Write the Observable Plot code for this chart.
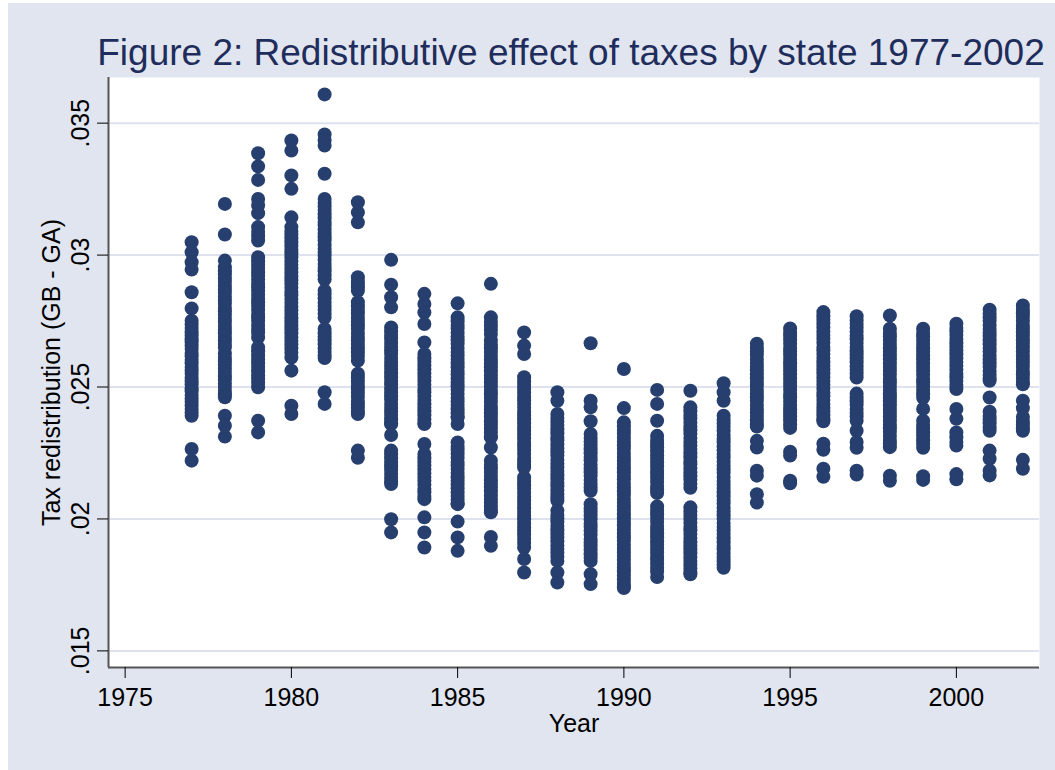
<!DOCTYPE html>
<html><head><meta charset="utf-8">
<script src="https://cdn.jsdelivr.net/npm/d3@7"></script>
<script src="https://cdn.jsdelivr.net/npm/@observablehq/plot@0.6"></script>
<style>
html,body{margin:0;padding:0;background:#fff;}
#wrap{position:relative;width:1055px;height:770px;overflow:hidden;font-family:"Liberation Sans",Arial,sans-serif;}
#panel{position:absolute;left:8px;top:3px;width:1047px;height:767px;background:#e1e5ef;}
#title{position:absolute;left:71px;width:1000px;top:33.5px;text-align:center;font-size:37px;line-height:37px;color:#1f2d5c;white-space:nowrap;}
#chart{position:absolute;left:0;top:0;}
</style></head><body>
<div id="wrap"><div id="panel"></div><div id="title"></div><div id="chart"></div></div>
<script>
const titleText = "Figure 2: Redistributive effect of taxes by state 1977-2002";
const xLabel = "Year";
const yLabel = "Tax redistribution (GB - GA)";
const xTicks = [1975, 1980, 1985, 1990, 1995, 2000];
const yTicks = [0.015, 0.02, 0.025, 0.03, 0.035];
const xDomain = [1974.5, 2002.5];
const yDomain = [0.01437, 0.03673];
const years = [1977,1978,1979,1980,1981,1982,1983,1984,1985,1986,1987,1988,1989,1990,1991,1992,1993,1994,1995,1996,1997,1998,1999,2000,2001,2002];

const r1977 = [.03049,.03011,.02973,.02945,.02859,.02798,.02751,.02737,.02724,.02708,.02695,.02681,.02670,.02655,.02644,.02629,.02617,.02603,.02590,.02576,.02563,.02550,.02535,.02522,.02510,.02495,.02484,.02470,.02456,.02444,.02430,.02417,.02403,.02391,.02265,.02221];
const r1978 = [.03194,.03078,.02979,.02954,.02939,.02927,.02911,.02899,.02884,.02870,.02857,.02842,.02828,.02816,.02800,.02787,.02774,.02759,.02746,.02731,.02717,.02704,.02690,.02676,.02663,.02650,.02627,.02611,.02598,.02585,.02570,.02557,.02541,.02528,.02513,.02500,.02485,.02473,.02461,.02391,.02353,.02312];
const r1979 = [.03386,.03336,.03285,.03213,.03188,.03159,.03106,.03088,.03072,.03055,.02992,.02977,.02963,.02951,.02935,.02922,.02907,.02892,.02878,.02865,.02850,.02835,.02821,.02808,.02793,.02777,.02764,.02751,.02735,.02720,.02707,.02688,.02650,.02636,.02620,.02604,.02590,.02576,.02560,.02544,.02530,.02516,.02499,.02372,.02328];
const r1980 = [.03434,.03396,.03302,.03251,.03143,.03106,.03091,.03078,.03064,.03049,.03034,.03020,.03007,.02992,.02976,.02963,.02949,.02934,.02919,.02905,.02892,.02876,.02861,.02848,.02834,.02819,.02804,.02790,.02777,.02761,.02746,.02733,.02719,.02704,.02688,.02675,.02661,.02646,.02630,.02612,.02562,.02429,.02398];
const r1981 = [.03609,.03457,.03434,.03415,.03308,.03213,.03198,.03184,.03171,.03155,.03140,.03126,.03113,.03097,.03082,.03068,.03055,.03039,.03024,.03010,.02997,.02981,.02966,.02952,.02939,.02923,.02908,.02865,.02851,.02836,.02820,.02807,.02793,.02778,.02763,.02720,.02704,.02691,.02677,.02662,.02646,.02633,.02619,.02610,.02480,.02436];
const r1982 = [.03200,.03162,.03124,.02916,.02902,.02890,.02878,.02865,.02821,.02806,.02792,.02779,.02763,.02748,.02734,.02721,.02705,.02690,.02676,.02663,.02647,.02632,.02618,.02600,.02550,.02536,.02521,.02505,.02492,.02478,.02463,.02447,.02434,.02420,.02405,.02398,.02259,.02232];
const r1983 = [.02982,.02888,.02840,.02802,.02726,.02711,.02697,.02684,.02668,.02653,.02639,.02626,.02610,.02595,.02581,.02568,.02552,.02537,.02523,.02510,.02494,.02479,.02465,.02452,.02436,.02421,.02407,.02394,.02378,.02363,.02360,.02318,.02259,.02245,.02230,.02214,.02200,.02187,.02171,.02156,.02142,.02132,.01999,.01949];
const r1984 = [.02853,.02815,.02783,.02739,.02669,.02625,.02609,.02596,.02582,.02567,.02551,.02538,.02524,.02509,.02493,.02480,.02466,.02451,.02435,.02422,.02408,.02393,.02377,.02364,.02360,.02284,.02246,.02230,.02217,.02203,.02188,.02172,.02159,.02145,.02130,.02114,.02101,.02087,.02075,.02006,.01949,.01892];
const r1985 = [.02817,.02764,.02749,.02735,.02722,.02706,.02691,.02677,.02664,.02648,.02633,.02619,.02606,.02590,.02575,.02561,.02548,.02532,.02517,.02503,.02490,.02474,.02459,.02445,.02432,.02416,.02401,.02387,.02385,.02360,.02290,.02274,.02261,.02247,.02232,.02216,.02203,.02189,.02174,.02158,.02145,.02131,.02116,.02100,.02087,.02073,.02058,.02056,.01990,.01930,.01879];
const r1986 = [.02891,.02764,.02747,.02732,.02717,.02701,.02676,.02660,.02647,.02633,.02618,.02602,.02589,.02575,.02560,.02544,.02531,.02517,.02502,.02486,.02473,.02459,.02444,.02428,.02415,.02401,.02386,.02370,.02357,.02343,.02328,.02312,.02309,.02271,.02221,.02205,.02192,.02178,.02163,.02147,.02134,.02120,.02105,.02089,.02076,.02062,.02047,.02031,.02025,.01932,.01898];
const r1987 = [.02707,.02657,.02625,.02537,.02521,.02508,.02494,.02479,.02463,.02450,.02436,.02421,.02405,.02392,.02378,.02363,.02347,.02334,.02320,.02305,.02289,.02276,.02262,.02247,.02231,.02218,.02204,.02195,.02157,.02142,.02128,.02115,.02099,.02084,.02070,.02057,.02041,.02026,.02012,.01999,.01983,.01968,.01954,.01941,.01925,.01910,.01892,.01848,.01797];
const r1988 = [.02480,.02448,.02398,.02383,.02369,.02356,.02340,.02325,.02311,.02298,.02282,.02267,.02253,.02240,.02224,.02209,.02195,.02182,.02166,.02151,.02137,.02124,.02108,.02093,.02079,.02069,.02031,.02015,.02002,.01988,.01973,.01957,.01944,.01930,.01915,.01899,.01886,.01872,.01857,.01841,.01797,.01759];
const r1989 = [.02666,.02448,.02423,.02370,.02322,.02307,.02293,.02280,.02264,.02249,.02235,.02222,.02206,.02191,.02177,.02164,.02148,.02133,.02119,.02107,.02056,.02040,.02027,.02013,.01998,.01982,.01969,.01955,.01940,.01924,.01911,.01897,.01882,.01866,.01853,.01841,.01791,.01753];
const r1990 = [.02568,.02420,.02366,.02351,.02337,.02324,.02308,.02293,.02279,.02266,.02250,.02235,.02221,.02208,.02192,.02177,.02163,.02150,.02134,.02119,.02105,.02092,.02076,.02061,.02047,.02034,.02018,.02003,.01989,.01976,.01960,.01945,.01931,.01918,.01902,.01887,.01873,.01860,.01844,.01829,.01815,.01802,.01786,.01771,.01757,.01744,.01738];
const r1991 = [.02489,.02436,.02372,.02315,.02299,.02286,.02272,.02257,.02241,.02228,.02214,.02199,.02183,.02170,.02156,.02141,.02125,.02112,.02098,.02047,.02031,.02018,.02004,.01989,.01973,.01960,.01946,.01931,.01915,.01902,.01888,.01873,.01857,.01844,.01830,.01815,.01801,.01780];
const r1992 = [.02486,.02423,.02408,.02394,.02381,.02365,.02350,.02336,.02323,.02307,.02292,.02278,.02265,.02249,.02234,.02220,.02207,.02191,.02176,.02162,.02149,.02133,.02118,.02044,.02028,.02015,.02001,.01986,.01970,.01957,.01943,.01928,.01912,.01899,.01885,.01870,.01854,.01841,.01827,.01812,.01797,.01790];
const r1993 = [.02514,.02480,.02448,.02391,.02376,.02362,.02349,.02333,.02318,.02304,.02291,.02275,.02260,.02246,.02233,.02217,.02202,.02188,.02175,.02159,.02144,.02130,.02117,.02101,.02086,.02072,.02059,.02043,.02028,.02014,.02001,.01985,.01970,.01956,.01943,.01927,.01912,.01898,.01885,.01869,.01854,.01840,.01827,.01815];
const r1994 = [.02664,.02649,.02635,.02622,.02606,.02591,.02577,.02564,.02548,.02533,.02519,.02506,.02490,.02475,.02461,.02448,.02432,.02417,.02403,.02390,.02374,.02359,.02350,.02296,.02271,.02183,.02164,.02094,.02062];
const r1995 = [.02722,.02706,.02693,.02679,.02664,.02648,.02635,.02621,.02606,.02590,.02577,.02563,.02548,.02532,.02519,.02505,.02490,.02474,.02461,.02447,.02432,.02416,.02403,.02389,.02374,.02358,.02345,.02255,.02240,.02145,.02135];
const r1996 = [.02784,.02768,.02755,.02741,.02726,.02710,.02697,.02683,.02668,.02652,.02639,.02625,.02610,.02594,.02581,.02567,.02552,.02536,.02523,.02509,.02494,.02478,.02465,.02451,.02436,.02420,.02407,.02393,.02378,.02370,.02285,.02262,.02190,.02160];
const r1997 = [.02768,.02752,.02739,.02725,.02710,.02694,.02681,.02667,.02652,.02636,.02623,.02609,.02594,.02578,.02565,.02551,.02536,.02475,.02460,.02446,.02433,.02417,.02402,.02388,.02372,.02334,.02292,.02270,.02183,.02168];
const r1998 = [.02771,.02721,.02705,.02692,.02678,.02663,.02647,.02634,.02620,.02605,.02589,.02576,.02562,.02547,.02531,.02518,.02504,.02489,.02473,.02460,.02446,.02431,.02415,.02402,.02388,.02373,.02357,.02344,.02330,.02315,.02299,.02286,.02272,.02164,.02145];
const r1999 = [.02721,.02705,.02692,.02678,.02663,.02647,.02634,.02620,.02605,.02589,.02576,.02562,.02547,.02531,.02518,.02504,.02489,.02473,.02459,.02417,.02372,.02356,.02343,.02329,.02314,.02298,.02285,.02270,.02162,.02148];
const r2000 = [.02740,.02724,.02711,.02697,.02682,.02666,.02653,.02639,.02624,.02608,.02595,.02581,.02566,.02550,.02537,.02523,.02508,.02492,.02417,.02380,.02328,.02310,.02292,.02278,.02170,.02150];
const r2001 = [.02793,.02778,.02764,.02751,.02735,.02720,.02706,.02693,.02677,.02662,.02648,.02635,.02619,.02604,.02590,.02577,.02561,.02546,.02532,.02524,.02460,.02406,.02390,.02377,.02363,.02347,.02334,.02259,.02228,.02183,.02165];
const r2002 = [.02809,.02793,.02780,.02766,.02751,.02735,.02722,.02708,.02693,.02677,.02664,.02650,.02635,.02619,.02606,.02592,.02577,.02561,.02548,.02534,.02519,.02510,.02448,.02420,.02387,.02371,.02358,.02344,.02334,.02224,.02190];

const byYear = [r1977,r1978,r1979,r1980,r1981,r1982,r1983,r1984,r1985,r1986,r1987,r1988,r1989,r1990,r1991,r1992,r1993,r1994,r1995,r1996,r1997,r1998,r1999,r2000,r2001,r2002];
const data = years.flatMap((yr, i) => byYear[i].map(v => ({year: yr, value: v})));

document.getElementById("title").textContent = titleText;

const chart = Plot.plot({
  width: 1055,
  height: 770,
  marginTop: 77,
  marginBottom: 103,
  marginLeft: 108,
  marginRight: 16,
  style: {background: "transparent", fontFamily: "'Liberation Sans', Arial, sans-serif", color: "#000", overflow: "visible"},
  x: {domain: xDomain},
  y: {domain: yDomain},
  marks: [
    Plot.frame({fill: "white", stroke: null}),
    Plot.gridY(yTicks, {stroke: "#dde2ee", strokeOpacity: 1, strokeWidth: 2}),
    Plot.dot(data, {x: "year", y: "value", r: 7, fill: "#263f6e", stroke: null}),
    Plot.ruleX([xDomain[0]], {stroke: "#555", strokeWidth: 2}),
    Plot.ruleY([yDomain[0]], {stroke: "#555", strokeWidth: 2}),
    Plot.axisX(xTicks, {tickSize: 11, tickPadding: 10, fontSize: 25, tickFormat: d => String(d), label: xLabel, labelAnchor: "center", labelOffset: 64, labelArrow: "none"}),
    Plot.axisY(yTicks, {tickSize: 11, tickPadding: 9, tickRotate: -90, fontSize: 25, tickFormat: d => String(d).replace(/^0/, ""), label: yLabel, labelAnchor: "center", labelOffset: 66, labelArrow: "none"})
  ]
});
document.getElementById("chart").append(chart);
</script>
</body></html>
